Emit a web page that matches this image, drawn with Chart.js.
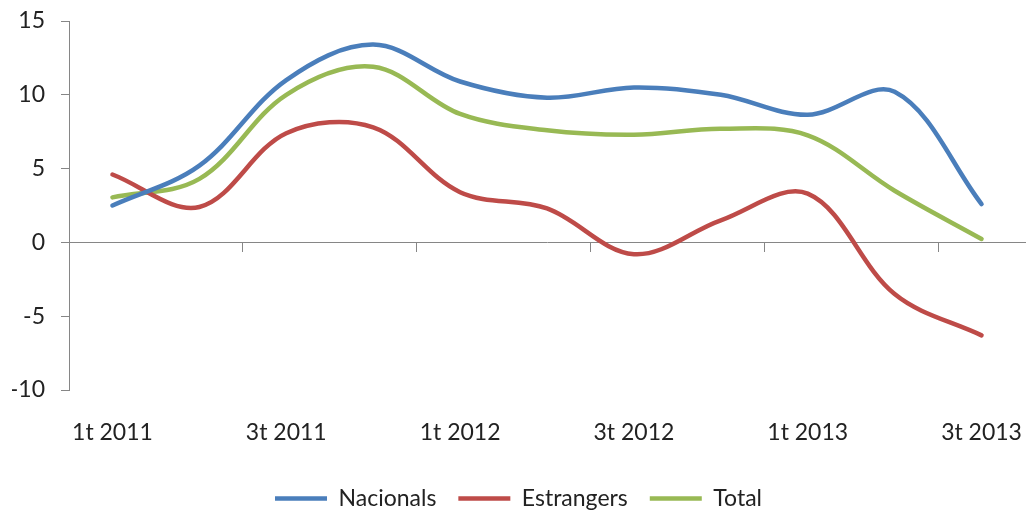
<!DOCTYPE html>
<html>
<head>
<meta charset="utf-8">
<script src="https://cdn.jsdelivr.net/npm/chart.js@4.4.1/dist/chart.umd.min.js"></script>
<style>
  body { margin: 0; background: #fff; }
  #wrap { width: 1032px; height: 512px; }
</style>
</head>
<body>
<div id="wrap"><canvas id="grafic"></canvas></div>
<script>
// trimestres (només es mostren els senars a l'eix)
const trimestres = ['1t 2011', '2t 2011', '3t 2011', '4t 2011', '1t 2012', '2t 2012',
                    '3t 2012', '4t 2012', '1t 2013', '2t 2013', '3t 2013'];
const nacionals = [2.5, 5.2, 11.0, 13.4, 10.9, 9.8, 10.5, 10.0, 8.65, 10.2, 2.6];
const estrangers = [4.6, 2.4, 7.4, 7.8, 3.4, 2.3, -0.8, 1.5, 3.3, -3.5, -6.3];
const total = [3.05, 4.3, 10.0, 11.9, 8.7, 7.6, 7.3, 7.7, 7.25, 3.5, 0.23];
const yTicks = [-10, -5, 0, 5, 10, 15];

const gris = '#868686';
const font = { family: 'Lato', size: 23 };

function serie(nom, dades, color) {
  return {
    label: nom,
    data: dades,
    borderColor: color,
    backgroundColor: color,
    borderWidth: 4.5,
    borderCapStyle: 'round',
    tension: 0.35,
    pointRadius: 0,
    pointHoverRadius: 0,
    xAxisID: 'x',
    yAxisID: 'y'
  };
}

new Chart('grafic', {
  type: 'line',
  data: {
    labels: trimestres,
    datasets: [
      serie('Nacionals', nacionals, '#4A7EBB'),
      serie('Estrangers', estrangers, '#BE4B48'),
      serie('Total', total, '#98B954')
    ]
  },
  options: {
    responsive: true,
    maintainAspectRatio: false,
    animation: false,
    layout: { padding: { top: 21, right: 7, left: 12, bottom: 0 } },
    plugins: {
      tooltip: { enabled: false },
      legend: {
        position: 'bottom',
        maxHeight: 47,
        labels: {
          font: font,
          color: '#222',
          usePointStyle: true,
          pointStyle: 'line',
          pointStyleWidth: 52,
          padding: 22
        }
      }
    },
    scales: {
      // eix horitzontal que creua a 0, amb marques cada dos trimestres
      x: {
        type: 'category',
        position: { y: 0 },
        offset: true,
        border: { display: true, color: gris, width: 1 },
        grid: {
          offset: true,
          drawOnChartArea: false,
          drawTicks: true,
          tickLength: 9,
          color: ctx => (ctx.index % 2 === 0 ? gris : 'transparent')
        },
        ticks: { display: false }
      },
      // etiquetes a la part de baix
      x2: {
        type: 'category',
        position: 'bottom',
        offset: true,
        border: { display: false },
        grid: { display: false, drawTicks: false },
        ticks: {
          autoSkip: false,
          maxRotation: 0,
          padding: 29,
          font: font,
          color: '#222',
          callback: (v, i) => (i % 2 === 0 ? trimestres[i] : '')
        },
        afterFit: s => {
          s.height = 75;
          s.paddingLeft = 0;
          s.paddingRight = 0;
        }
      },
      y: {
        min: yTicks[0],
        max: yTicks[yTicks.length - 1],
        afterBuildTicks: s => { s.ticks = yTicks.map(v => ({ value: v })); },
        afterFit: s => {
          s.width = 57;
          s.paddingTop = 0;
          s.paddingBottom = 0;
        },
        border: { display: true, color: gris, width: 1 },
        grid: { drawOnChartArea: false, drawTicks: true, tickLength: 8, color: gris },
        ticks: { padding: 16, font: font, color: '#222' }
      }
    }
  }
});
</script>
</body>
</html>
